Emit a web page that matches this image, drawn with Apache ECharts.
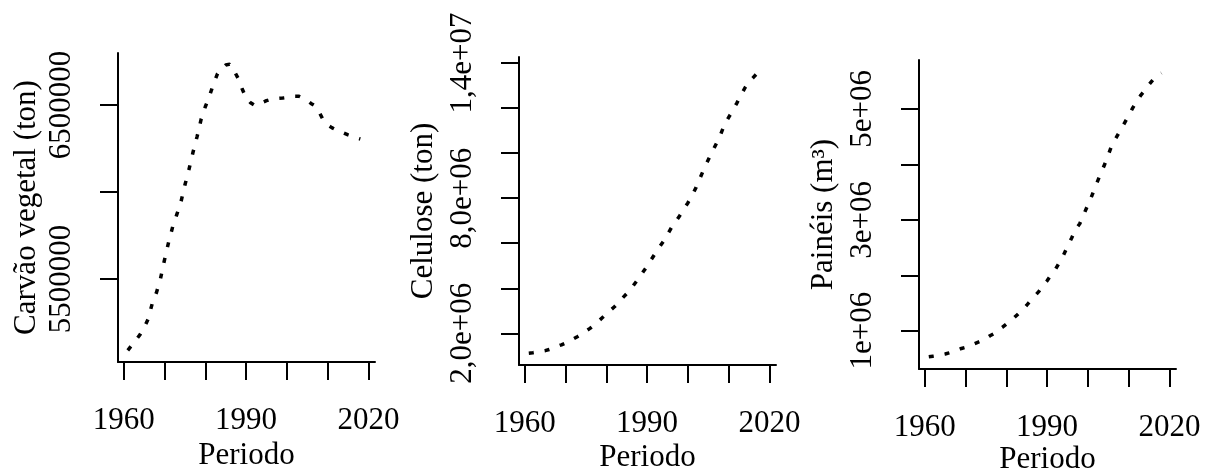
<!DOCTYPE html>
<html>
<head>
<meta charset="utf-8">
<script src="https://cdn.jsdelivr.net/npm/echarts@6/dist/echarts.min.js"></script>
<style>
html,body{margin:0;padding:0;background:#fff;}
#main{width:1211px;height:470px;}
</style>
</head>
<body>
<div id="main"></div>
<script>
var years = [1961,1962,1963,1964,1965,1966,1967,1968,1969,1970,
	1971,1972,1973,1974,1975,1976,1977,1978,1979,1980,
	1981,1982,1983,1984,1985,1986,1987,1988,1989,1990,
	1991,1992,1993,1994,1995,1996,1997,1998,1999,2000,
	2001,2002,2003,2004,2005,2006,2007,2008,2009,2010,
	2011,2012,2013,2014,2015,2016,2017,2018];

// carvao vegetal (ton)
var carvao = [5090000,5120000,5150000,5180000,5220000,5270000,5360000,5420000,5500000,5610000,
	5710000,5800000,5870000,5940000,6040000,6130000,6230000,6320000,6420000,6490000,
	6550000,6620000,6680000,6710000,6730000,6735000,6700000,6655000,6595000,6540000,
	6515000,6500000,6500000,6515000,6525000,6532000,6535000,6538000,6540000,6543000,
	6547000,6550000,6550000,6540000,6525000,6508000,6494000,6455000,6410000,6385000,
	6370000,6358000,6348000,6338000,6328000,6320000,6312000,6305000];

// celulose (ton)
var celulose = [1120000,1140000,1170000,1200000,1230000,1280000,1340000,1420000,1490000,1570000,
	1660000,1760000,1860000,1970000,2100000,2220000,2360000,2520000,2690000,2860000,
	3020000,3180000,3370000,3570000,3760000,3960000,4210000,4450000,4720000,4980000,
	5270000,5550000,5820000,6080000,6390000,6700000,6960000,7220000,7530000,7790000,
	8110000,8470000,8900000,9320000,9700000,10080000,10430000,10820000,11280000,11590000,
	11890000,12220000,12570000,12900000,13150000,13350000,13550000,13680000];

// paineis (m3)
var paineis = [530000,540000,550000,565000,580000,600000,620000,650000,680000,700000,
	730000,760000,790000,820000,860000,910000,950000,1010000,1060000,1120000,
	1180000,1240000,1310000,1380000,1460000,1550000,1630000,1710000,1820000,1900000,
	2010000,2100000,2230000,2360000,2520000,2670000,2830000,2930000,3100000,3270000,
	3440000,3630000,3810000,3980000,4170000,4370000,4490000,4620000,4750000,4880000,
	5020000,5140000,5250000,5340000,5440000,5530000,5600000,5650000];

var xTicks = [1960,1970,1980,1990,2000,2010,2020];
var xLabels = [1960,1990,2020];

var carvaoTicks = [5500000,6000000,6500000];
var carvaoLabelVals = [5500000,6500000];
var carvaoLabels = ['5500000','6500000'];

var celTicks = [2000000,4000000,6000000,8000000,10000000,12000000,14000000];
var celLabelVals = [2000000,8000000,14000000];
var celLabels = ['2,0e+06','8,0e+06','1,4e+07'];

var painTicks = [1000000,2000000,3000000,4000000,5000000];
var painLabelVals = [1000000,3000000,5000000];
var painLabels = ['1e+06','3e+06','5e+06'];

var FONT = 'Liberation Serif';

function pairs(xs, ys) {
	var out = [];
	for (var i = 0; i < xs.length; i++) {
		out.push([xs[i], ys[i]]);
	}
	return out;
}

var grids = [], xAxes = [], yAxes = [], series = [];

function addPanel(box, yMin, yMax, ticks, labelVals, labels, title, nameGap, xNameGap, values) {
	var idx = grids.length;
	grids.push({
		left: box[0], top: box[1], width: box[2], height: box[3],
		containLabel: false, outerBoundsMode: 'none'
	});
	xAxes.push({
		gridIndex: idx, type: 'value', min: 1958.6, max: 2021.6,
		name: 'Periodo', nameLocation: 'middle', nameGap: xNameGap, nameMoveOverlap: false,
		nameTextStyle: { fontFamily: FONT, fontSize: 31, color: '#000' },
		axisLine: { show: true, lineStyle: { color: '#000', width: 2 } },
		axisTick: { show: true, inside: false, length: 18, customValues: xTicks,
			lineStyle: { color: '#000', width: 2 } },
		axisLabel: { customValues: xLabels, margin: 43, fontFamily: FONT, fontSize: 31, color: '#000',
			formatter: function (v) { return String(v); } },
		splitLine: { show: false }
	});
	yAxes.push({
		gridIndex: idx, type: 'value', min: yMin, max: yMax,
		name: title, nameLocation: 'middle', nameGap: nameGap, nameMoveOverlap: false,
		nameTextStyle: { fontFamily: FONT, fontSize: 31, color: '#000' },
		axisLine: { show: true, lineStyle: { color: '#000', width: 2 } },
		axisTick: { show: true, inside: false, length: 18, customValues: ticks,
			lineStyle: { color: '#000', width: 2 } },
		axisLabel: { customValues: labelVals, rotate: 90, margin: 41, fontFamily: FONT, fontSize: 31, color: '#000',
			formatter: function (v) { return labels[labelVals.indexOf(v)]; } },
		splitLine: { show: false }
	});
	series.push({
		type: 'line', xAxisIndex: idx, yAxisIndex: idx,
		data: pairs(years, values),
		showSymbol: false, symbol: 'none', smooth: false, silent: true,
		lineStyle: { color: '#000', width: 3.5, type: [5, 11], cap: 'butt' }
	});
}

addPanel([118, 53, 257, 309], 5023000, 6799000, carvaoTicks, carvaoLabelVals, carvaoLabels,
	'Carvão vegetal (ton)', 76, 78, carvao);
addPanel([519, 57, 257, 308], 594000, 14266000, celTicks, celLabelVals, celLabels,
	'Celulose (ton)', 80, 77, celulose);
addPanel([919, 60, 257, 309], 310000, 5883000, painTicks, painLabelVals, painLabels,
	'Painéis (m³)', 80, 75, paineis);

var myChart = echarts.init(document.getElementById('main'));
var option = {
	backgroundColor: '#fff',
	animation: false,
	grid: grids,
	xAxis: xAxes,
	yAxis: yAxes,
	series: series
};
myChart.setOption(option, true);
</script>
</body>
</html>
